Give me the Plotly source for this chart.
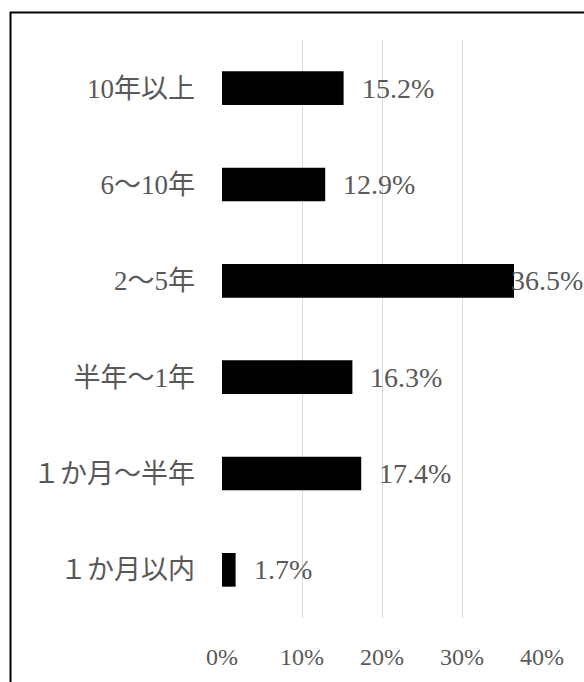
import plotly.graph_objects as go

categories = ["１か月以内", "１か月～半年", "半年～1年", "2～5年", "6～10年", "10年以上"]
values = [0.017, 0.174, 0.163, 0.365, 0.129, 0.152]
label_texts = ["1.7%", "17.4%", "16.3%", "36.5%", "12.9%", "15.2%"]
x_ticks = [0, 0.1, 0.2, 0.3, 0.4]
x_tick_labels = ["0%", "10%", "20%", "30%", "40%"]

FONT = "'Liberation Serif', 'Noto Sans CJK JP', serif"
GREY = "#595959"

fig = go.Figure()
fig.add_trace(go.Bar(
    y=categories, x=values, orientation="h",
    marker=dict(color="#000000", line=dict(width=0)),
    hoverinfo="skip",
))

annotations = []
for cat, v, t in zip(categories, values, label_texts):
    shift = 16
    if v > 0.35:
        shift = -5
    annotations.append(dict(
        x=v, y=cat, xref="x", yref="y", text=t, showarrow=False,
        xanchor="left", yanchor="middle", xshift=shift,
        font=dict(family=FONT, size=28, color=GREY),
    ))

W, H = 584, 682
ml, mr, mt, mb = 222, 42, 40, 54
pw = W - ml - mr
ph = H - mt - mb

fig.update_layout(
    width=W, height=H,
    margin=dict(l=ml, r=mr, t=mt, b=mb, pad=0),
    plot_bgcolor="white", paper_bgcolor="white",
    bargap=0.65,
    showlegend=False,
    annotations=annotations,
    xaxis=dict(
        range=[0, 0.4], tickvals=x_ticks, ticktext=x_tick_labels,
        showgrid=True, gridcolor="#d9d9d9", gridwidth=1,
        zeroline=False, showline=False, ticks="",
        tickfont=dict(family=FONT, size=24, color=GREY),
        ticklabelstandoff=22, fixedrange=True,
    ),
    yaxis=dict(
        showgrid=False, zeroline=False, showline=False, ticks="",
        tickfont=dict(family=FONT, size=27, color=GREY),
        ticklabelstandoff=26, fixedrange=True,
    ),
    shapes=[dict(
        type="rect", xref="paper", yref="paper",
        x0=(10.5 - ml) / pw, x1=2.0,
        y0=-1.0, y1=(H - mb - 12) / ph,
        line=dict(color="#000000", width=2), fillcolor="rgba(0,0,0,0)",
        layer="above",
    )],
)

fig.write_html("out.html")
